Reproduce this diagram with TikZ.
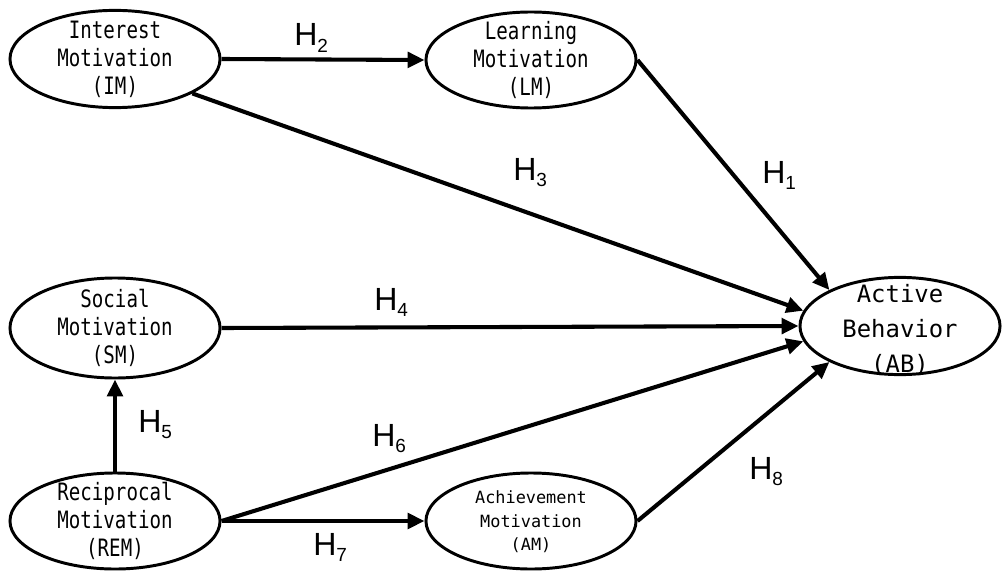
\documentclass[tikz,border=0pt]{standalone}
\usepackage{fontspec}
\setmainfont{Liberation Sans}
\newfontfamily\nodefont[FakeStretch=0.8]{DejaVu Sans Mono}
\newfontfamily\widefont{DejaVu Sans Mono}
\usepackage{tikz}
\usetikzlibrary{shapes.geometric,arrows.meta,positioning}
\newcommand{\hlab}[1]{H\raisebox{-4.3pt}{\fontsize{13.5}{13.5}\selectfont #1}}

\begin{document}
\begin{tikzpicture}[
    x=0.025cm, y=-0.025cm,
    oval/.style={ellipse, draw, line width=2.1pt, inner sep=0pt, minimum width=5.25cm, minimum height=2.4cm},
    txt/.style={align=center, inner sep=0pt, font=\nodefont\fontsize{17}{20}\selectfont},
    arrow/.style={-{Triangle[length=12pt,width=11pt]}, line width=2.9pt},
    hyp/.style={anchor=base west, inner sep=0pt, font=\fontsize{22.8}{24}\selectfont}]
  \useasboundingbox (0,0) rectangle (1003,571);
  % constructs
  \node[oval, minimum height=2.43cm] (IM) at (115,59) {};
  \node[oval, minimum width=5.25cm] (LM) at (531,60) {};
  \node[oval, minimum height=2.5cm] (SM) at (115,328) {};
  \node[oval] (REM) at (115,521) {};
  \node[oval, minimum width=5.25cm] (AM) at (531,521) {};
  \node[oval, minimum width=5cm, minimum height=2.43cm] (AB) at (900,326) {};
  \node[txt] (IMt) at (IM) {Interest\\Motivation\\(IM)};
  \node[txt] (LMt) at (LM) {Learning\\Motivation\\(LM)};
  \node[txt] (SMt) at (SM) {Social\\Motivation\\(SM)};
  \node[txt] (REMt) at (REM) {Reciprocal\\Motivation\\(REM)};
  \node[txt, font=\widefont\fontsize{12}{16.7}\selectfont] (AMt) at (531,522) {Achievement\\Motivation\\(AM)};
  \node[txt, font=\widefont\fontsize{17}{25}\selectfont] (ABt) at (900,330) {Active\\Behavior\\(AB)};
  % paths
  \draw[arrow] (IM.east) -- (LM.west);
  \draw[arrow] (LM.east) -- (AB.153);
  \draw[arrow] (IM.-24) -- (AB.171);
  \draw[arrow] (SM.east) -- (AB.west);
  \draw[arrow] (REM.north) -- (SM.south);
  \draw[arrow] (REM.east) -- (AB.189);
  \draw[arrow] (REM.east) -- (AM.west);
  \draw[arrow] (AM.east) -- (AB.207);
  % hypotheses
  \node[hyp] (H1) at (762,183) {\hlab{1}};
  \node[hyp] (H2) at (294,46) {\hlab{2}};
  \node[hyp] (H3) at (513,180) {\hlab{3}};
  \node[hyp] (H4) at (374,310) {\hlab{4}};
  \node[hyp] (H5) at (138,432) {\hlab{5}};
  \node[hyp] (H6) at (372,446) {\hlab{6}};
  \node[hyp] (H7) at (313,555) {\hlab{7}};
  \node[hyp] (H8) at (749,479) {\hlab{8}};
\end{tikzpicture}
\end{document}
